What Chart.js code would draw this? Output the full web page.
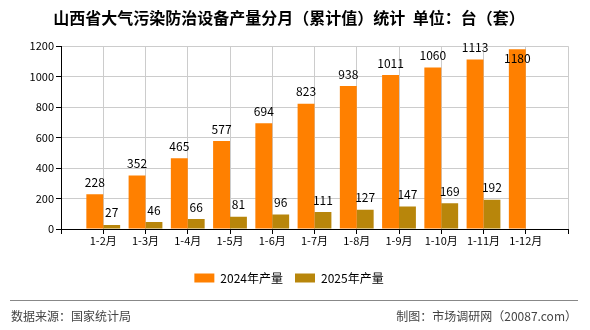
<!DOCTYPE html>
<html>
<head>
<meta charset="utf-8">
<script src="https://cdn.jsdelivr.net/npm/chart.js@4/dist/chart.umd.min.js"></script>
<style>
  body { margin: 0; background: #fff; }
  #wrap { width: 590px; height: 330px; }
</style>
</head>
<body>
<div id="wrap"><canvas id="chart1" width="590" height="330"></canvas></div>
<script>
const categories = ['', '1-2月', '1-3月', '1-4月', '1-5月', '1-6月', '1-7月', '1-8月', '1-9月', '1-10月', '1-11月', '1-12月', ''];
const output2024 = [null, 228, 352, 465, 577, 694, 823, 938, 1011, 1060, 1113, 1180, null];
const output2025 = [null, 27, 46, 66, 81, 96, 111, 127, 147, 169, 192, null, null];
const seriesNames = ['2024年产量', '2025年产量'];
const yTicks = [0, 200, 400, 600, 800, 1000, 1200];

const fontFamily = '"Noto Sans CJK SC", "DejaVu Sans", sans-serif';

// numbers above bars
const valueLabels = {
    id: 'valueLabels',
    afterDatasetsDraw(chart) {
        const ctx = chart.ctx;
        ctx.save();
        ctx.font = '12px ' + fontFamily;
        ctx.fillStyle = '#000';
        ctx.textAlign = 'center';
        ctx.textBaseline = 'bottom';
        chart.data.datasets.forEach((ds, i) => {
            chart.getDatasetMeta(i).data.forEach((bar, j) => {
                const v = ds.data[j];
                if (v === null) return;
                let y = bar.y - 6;
                if (bar.y < 52) y = bar.y + 15;
                ctx.fillText(String(v), bar.x, y);
            });
        });
        ctx.restore();
    }
};

// source line at the bottom
const footer = {
    id: 'footer',
    afterDraw(chart) {
        const ctx = chart.ctx;
        ctx.save();
        ctx.strokeStyle = '#888';
        ctx.lineWidth = 1;
        ctx.beginPath();
        ctx.moveTo(10, 300.5);
        ctx.lineTo(578, 300.5);
        ctx.stroke();
        ctx.font = '12px ' + fontFamily;
        ctx.fillStyle = '#444';
        ctx.textBaseline = 'middle';
        ctx.textAlign = 'left';
        ctx.fillText('数据来源：国家统计局', 11, 316);
        ctx.textAlign = 'right';
        ctx.fillText('制图：市场调研网（20087.com）', 577, 316);
        ctx.restore();
    }
};

const data1 = {
    labels: categories,
    datasets: [
        {
            label: seriesNames[0],
            data: output2024,
            backgroundColor: '#FF8000',
            borderWidth: 0,
            categoryPercentage: 0.8,
            barPercentage: 1.0
        },
        {
            label: seriesNames[1],
            data: output2025,
            backgroundColor: '#B8860B',
            borderWidth: 0,
            categoryPercentage: 0.8,
            barPercentage: 1.0
        }
    ]
};

const config1 = {
    type: 'bar',
    data: data1,
    options: {
        responsive: false,
        animation: false,
        layout: { padding: { left: 10, right: 22, top: 0, bottom: 36 } },
        plugins: {
            title: {
                display: true,
                text: '山西省大气污染防治设备产量分月（累计值）统计  单位：台（套）',
                color: '#000',
                font: { family: fontFamily, size: 16, weight: 'bold' },
                padding: { top: 8, bottom: 19 }
            },
            legend: {
                position: 'bottom',
                labels: {
                    boxWidth: 20,
                    boxHeight: 9,
                    color: '#000',
                    font: { family: fontFamily, size: 12 },
                    padding: 12
                }
            },
            tooltip: { enabled: false }
        },
        scales: {
            x: {
                offset: false,
                grid: { offset: false, color: '#cccccc', lineWidth: 1, tickColor: '#000', tickLength: 5 },
                border: { color: '#000', width: 1 },
                ticks: { color: '#000', font: { family: fontFamily, size: 11 }, maxRotation: 0, autoSkip: false, padding: 0 },
                afterFit(axis) { axis.height = 31; }
            },
            y: {
                min: 0,
                max: 1200,
                afterBuildTicks(axis) { axis.ticks = yTicks.map(v => ({ value: v })); },
                grid: { color: '#cccccc', tickColor: '#000', tickLength: 5 },
                border: { color: '#000', width: 1 },
                ticks: { color: '#000', font: { family: fontFamily, size: 11 }, padding: 2, callback: v => String(v) },
                afterFit(axis) { axis.width = 51; }
            }
        }
    },
    plugins: [valueLabels, footer]
};

const myChart1 = new Chart(document.getElementById('chart1').getContext('2d'), config1);
</script>
</body>
</html>
